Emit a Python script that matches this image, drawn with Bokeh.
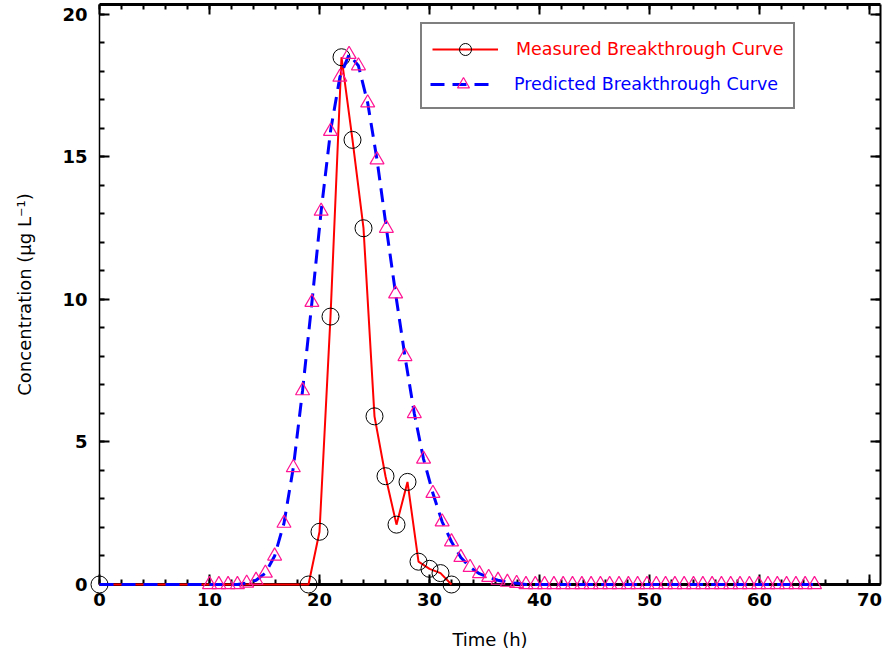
from bokeh.plotting import figure
from bokeh.models import (Range1d, LinearAxis, SingleIntervalTicker, Legend, LegendItem)
from bokeh.embed import file_html
from bokeh.resources import INLINE

# Measured breakthrough curve
meas_t = [0, 19, 20, 21, 22, 23, 24, 25, 26, 27, 28, 29, 30, 31, 32]
meas_c = [0.0, 0.0, 1.85, 9.4, 18.5, 15.6, 12.5, 5.9, 3.8, 2.1, 3.6, 0.8, 0.55, 0.4, 0.0]

# Predicted breakthrough curve (markers)
pred_t = [10.0, 10.85, 11.69, 12.54, 13.38, 14.23, 15.08, 15.92, 16.77, 17.62,
          18.46, 19.31, 20.15, 21.0, 21.85, 22.69, 23.54, 24.38, 25.23, 26.08,
          26.92, 27.77, 28.62, 29.46, 30.31, 31.15, 32.0, 32.85, 33.69, 34.54,
          35.38, 36.23, 37.08, 37.92, 38.77, 39.62, 40.46, 41.31, 42.15, 43.0,
          43.85, 44.69, 45.54, 46.38, 47.23, 48.08, 48.92, 49.77, 50.62, 51.46,
          52.31, 53.15, 54.0, 54.85, 55.69, 56.54, 57.38, 58.23, 59.08, 59.92,
          60.77, 61.62, 62.46, 63.31, 64.15, 65.0]
pred_c = [0.0, 0.0, 0.0, 0.0, 0.05, 0.15, 0.4, 1.0, 2.15, 4.1,
          6.8, 9.9, 13.1, 15.9, 17.8, 18.6, 18.2, 16.9, 14.9, 12.5,
          10.2, 8.0, 6.0, 4.4, 3.2, 2.2, 1.5, 0.95, 0.6, 0.38,
          0.25, 0.15, 0.08, 0.04, 0.0, 0.0, 0.0, 0.0, 0.0, 0.0,
          0.0, 0.0, 0.0, 0.0, 0.0, 0.0, 0.0, 0.0, 0.0, 0.0,
          0.0, 0.0, 0.0, 0.0, 0.0, 0.0, 0.0, 0.0, 0.0, 0.0,
          0.0, 0.0, 0.0, 0.0, 0.0, 0.0]
# the predicted line also starts at the origin
pred_line_t = [0.0] + pred_t
pred_line_c = [0.0] + pred_c

x_label = "Time (h)"
y_label = "Concentration (\u03bcg L\u207b\u00b9)"
meas_label = "Measured Breakthrough Curve"
pred_label = "Predicted Breakthrough Curve"

FONT = "DejaVu Sans"

p = figure(width=882, height=658, output_backend="svg", toolbar_location=None,
           x_range=Range1d(0, 71), y_range=Range1d(0, 20.35),
           min_border_left=99, min_border_right=2, min_border_top=4, min_border_bottom=74,
           x_axis_location=None, y_axis_location=None)
p.outline_line_color = None
p.xgrid.visible = False
p.ygrid.visible = False
p.background_fill_color = "white"
p.border_fill_color = "white"

def make_axis(ticker, labels, width):
    ax = LinearAxis(ticker=ticker)
    ax.axis_line_width = width
    ax.axis_line_color = "black"
    ax.major_tick_in = 10
    ax.major_tick_out = 0
    ax.minor_tick_in = 5
    ax.minor_tick_out = 0
    ax.major_tick_line_width = 2
    ax.minor_tick_line_width = 2
    ax.major_tick_line_color = "black"
    ax.minor_tick_line_color = "black"
    if labels:
        ax.major_label_text_font = FONT
        ax.major_label_text_font_style = "bold"
        ax.major_label_text_font_size = "18px"
        ax.major_label_text_color = "black"
        ax.axis_label_text_font = FONT
        ax.axis_label_text_font_style = "normal"
        ax.axis_label_text_font_size = "18px"
        ax.axis_label_text_color = "black"
    else:
        ax.major_label_text_font_size = "0px"
        ax.major_label_standoff = 0
        ax.major_label_text_alpha = 0
    return ax

xt = SingleIntervalTicker(interval=10, num_minor_ticks=5)
yt = SingleIntervalTicker(interval=5, num_minor_ticks=5)

xb = make_axis(xt, True, 3)
xb.axis_label = x_label
xb.major_label_standoff = 8
xb.axis_label_standoff = 20
yl = make_axis(yt, True, 1.5)
yl.axis_label = y_label
yl.major_label_standoff = 12
yl.axis_label_standoff = 24
xa = make_axis(xt, False, 3)
yr = make_axis(yt, False, 2)
p.add_layout(xb, "below")
p.add_layout(yl, "left")
p.add_layout(xa, "above")
p.add_layout(yr, "right")

r_meas_line = p.line(meas_t, meas_c, line_color="red", line_width=2, level="overlay")
r_meas_pts = p.scatter(meas_t, meas_c, marker="circle", size=17, fill_color=None,
                       line_color="black", line_width=1, level="overlay")
r_pred_line = p.line(pred_line_t, pred_line_c, line_color="blue", line_width=3,
                     line_dash="14 8", level="overlay")
r_pred_pts = p.scatter(pred_t, pred_c, marker="triangle", size=14, fill_color=None,
                       line_color="#ff1493", line_width=1.2, level="overlay")
r_dummy = p.line([], [], line_alpha=0)

common = dict(glyph_width=66, glyph_height=30, label_height=30, label_standoff=18,
              label_text_font=FONT, label_text_font_size="17.5px", margin=0)
legA = Legend(items=[LegendItem(label=meas_label, renderers=[r_meas_line, r_meas_pts]),
                     LegendItem(label=" ", renderers=[r_dummy])],
              location=(321, 475), padding=10, spacing=3,
              label_text_color="red", border_line_color="black", border_line_width=2,
              background_fill_color="white", background_fill_alpha=1, **common)
legB = Legend(items=[LegendItem(label=pred_label, renderers=[r_pred_line, r_pred_pts])],
              location=(331, 485), padding=0, spacing=0,
              label_text_color="blue", border_line_color=None,
              background_fill_alpha=0, **common)
p.add_layout(legA, "center")
p.add_layout(legB, "center")

open("out.html", "w").write(file_html(p, INLINE))
